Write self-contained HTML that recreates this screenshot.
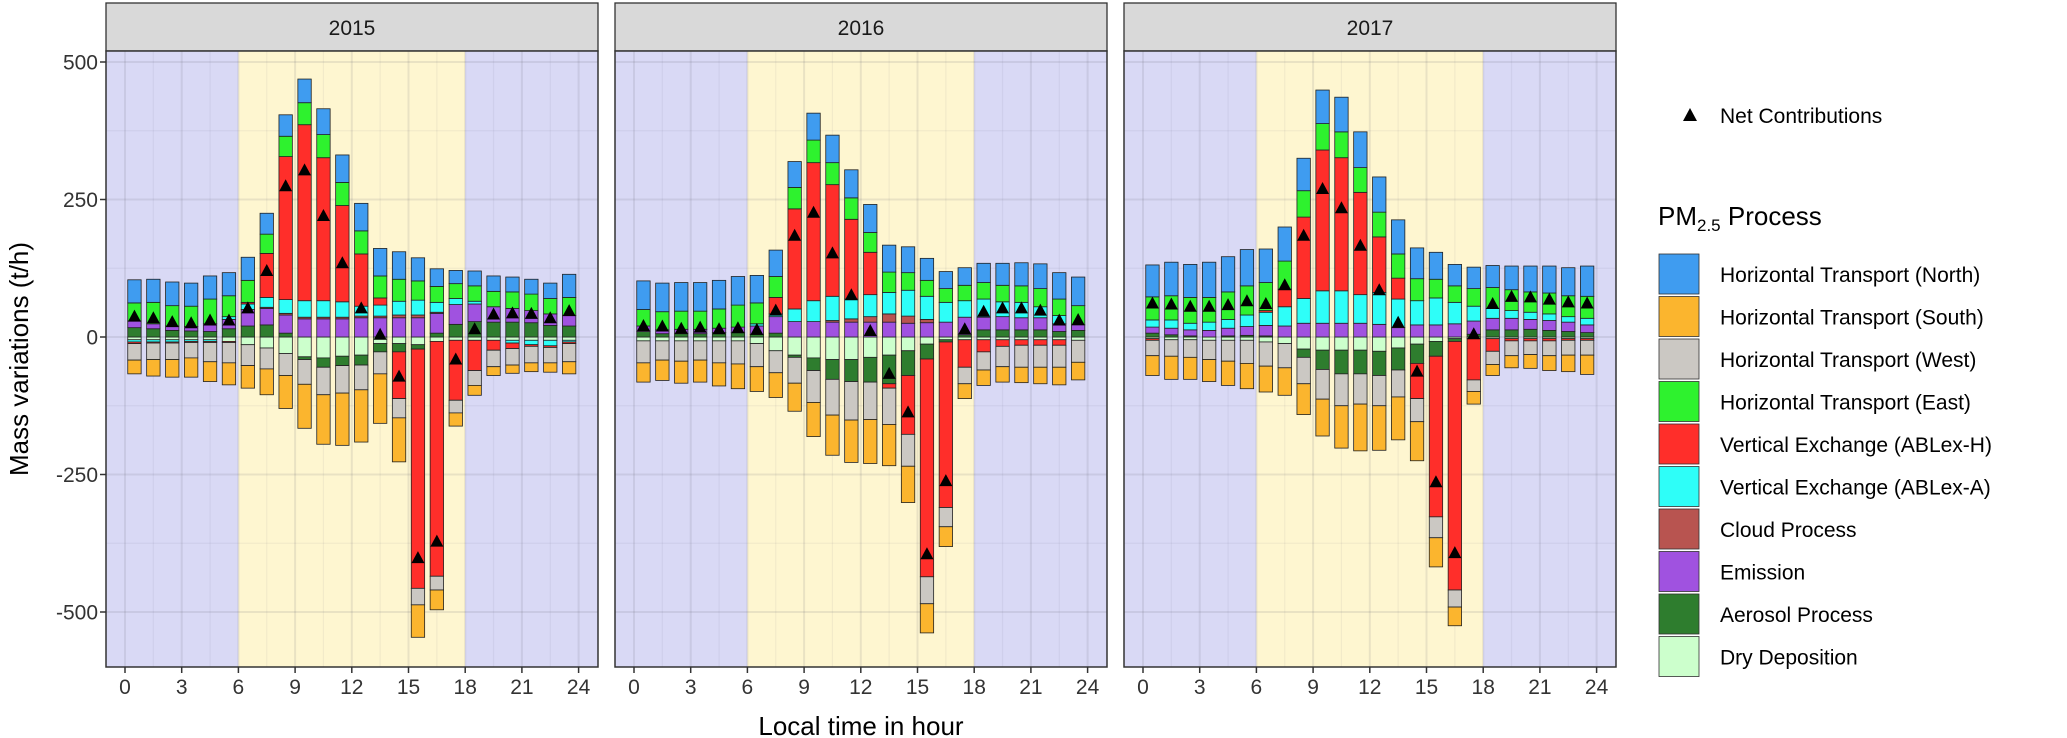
<!DOCTYPE html>
<html><head><meta charset="utf-8">
<style>
body{margin:0;background:#fff;}
svg{display:block;font-family:"Liberation Sans",Arial,sans-serif;}
</style></head>
<body>
<svg id="chart" width="2067" height="738" viewBox="0 0 2067 738" xmlns="http://www.w3.org/2000/svg">
<rect x="0" y="0" width="2067" height="738" fill="#fff"/>
<g id="panels"></g>
<text x="0" y="0" transform="translate(28,359) rotate(-90)" text-anchor="middle" font-size="26" fill="#000">Mass variations (t/h)</text>
<text x="861" y="735" text-anchor="middle" font-size="26" fill="#000">Local time in hour</text>
<g id="legend"></g>
</svg>
<script>
const hours = [0.5,1.5,2.5,3.5,4.5,5.5,6.5,7.5,8.5,9.5,10.5,11.5,12.5,13.5,14.5,15.5,16.5,17.5,18.5,19.5,20.5,21.5,22.5,23.5];
const years = ["2015","2016","2017"];
const yTicks = [-500,-250,0,250,500];
const xTicks = [0,3,6,9,12,15,18,21,24];
const seriesNames = ["Horizontal Transport (North)","Horizontal Transport (South)","Horizontal Transport (West)","Horizontal Transport (East)","Vertical Exchange (ABLex-H)","Vertical Exchange (ABLex-A)","Cloud Process","Emission","Aerosol Process","Dry Deposition"];
const seriesColors = ["#3f9cf0","#fbb52e","#cbc8c3","#2ef22e","#ff2e2a","#2efef8","#b85450","#a052e0","#2e7d2e","#ccffcc"];

// 2015
const north2015 = [42,42,43,42,42,42,42,38,39,43,47,50,50,50,50,42,32,24,27,28,27,27,28,42];
const south2015 = [-25,-30,-32,-35,-36,-40,-41,-47,-60,-80,-90,-95,-95,-90,-80,-59,-36,-24,-18,-16,-15,-16,-17,-22];
const west2015 = [-30,-30,-30,-28,-35,-37,-38,-38,-40,-45,-50,-50,-45,-40,-35,-30,-25,-23,-27,-30,-30,-30,-28,-33];
const east2015 = [33,39,37,37,45,38,40,35,37,40,42,42,42,40,40,35,29,27,28,28,30,30,28,33];
const ablexH2015 = [-3,-2,-2,-2,-2,-2,3,80,260,320,260,175,95,13,-85,-435,-427,-109,-55,-18,-10,-3,-3,-3];
const ablexA2015 = [-4,-4,-4,-3,-3,5,10,18,25,30,30,28,18,20,25,27,18,11,5,0,-5,-8,-10,-3];
const cloud2015 = [0,0,0,0,0,0,0,2,3,3,3,3,3,3,5,5,2,0,0,0,0,0,0,0];
const emission2015 = [12,9,8,8,14,17,30,30,33,33,33,33,35,35,35,35,36,36,32,28,25,22,21,19];
const aerosol2015 = [17,15,12,11,10,15,20,22,7,-5,-17,-17,-18,-15,-15,-8,7,23,28,27,27,26,21,20];
const drydep2015 = [-5,-5,-5,-5,-5,-8,-14,-20,-30,-36,-38,-35,-33,-12,-12,-14,-8,-6,-6,-6,-6,-6,-6,-6];
// 2016
const north2016 = [52,52,52,52,52,52,50,48,47,49,50,51,51,49,47,40,31,32,35,40,42,45,48,52];
const south2016 = [-35,-37,-40,-40,-42,-45,-45,-45,-51,-62,-73,-77,-80,-75,-66,-53,-36,-27,-28,-28,-28,-30,-32,-32];
const west2016 = [-40,-35,-37,-35,-40,-42,-42,-40,-47,-58,-65,-70,-68,-66,-58,-49,-35,-30,-33,-37,-40,-40,-40,-40];
const east2016 = [30,33,33,33,35,40,38,38,39,41,40,39,36,37,32,29,25,28,30,30,30,33,30,35];
const ablexH2016 = [0,0,0,0,0,0,0,30,182,251,203,145,77,-8,-107,-396,-301,-50,-22,-12,-10,-10,-10,0];
const ablexA2016 = [0,0,0,0,0,0,4,5,23,38,44,36,40,39,47,42,36,30,33,27,28,20,15,0];
const cloud2016 = [0,0,0,0,0,0,0,0,0,0,3,6,10,15,13,6,0,0,0,0,0,0,0,0];
const emission2016 = [10,7,8,8,8,10,15,30,28,28,27,27,27,27,25,26,27,32,23,24,22,22,14,10];
const aerosol2016 = [10,6,6,6,8,8,5,7,-4,-23,-36,-40,-45,-52,-45,-27,-4,4,13,13,13,13,10,12];
const drydep2016 = [-7,-7,-7,-7,-7,-7,-12,-25,-33,-38,-41,-41,-37,-33,-25,-13,-5,-5,-5,-5,-5,-5,-5,-6];
// 2017
const north2017 = [58,61,60,64,64,66,61,62,59,61,63,65,64,62,56,49,39,39,40,43,47,49,51,55];
const south2017 = [-36,-42,-40,-40,-44,-46,-47,-50,-56,-67,-77,-85,-81,-78,-71,-53,-34,-23,-20,-22,-25,-27,-30,-35];
const west2017 = [-28,-30,-32,-35,-38,-42,-44,-44,-48,-54,-58,-55,-55,-49,-42,-38,-31,-21,-24,-27,-25,-27,-27,-27];
const east2017 = [42,44,47,45,50,53,51,51,48,48,47,45,45,44,40,34,30,32,38,38,37,38,38,40];
const ablexH2017 = [-3,0,0,0,0,0,3,32,148,256,242,186,101,38,-64,-292,-452,-75,-23,-4,-4,-4,-3,-3];
const ablexA2017 = [13,15,12,15,16,21,24,35,45,59,59,52,58,52,44,49,39,27,18,14,13,12,10,12];
const cloud2017 = [0,0,0,0,0,0,0,0,0,0,0,0,0,0,0,0,0,0,0,0,0,0,0,0];
const emission2017 = [11,12,11,12,14,16,19,20,25,25,25,25,23,17,22,22,24,24,21,21,18,18,17,14];
const aerosol2017 = [7,4,2,0,2,3,2,0,-15,-35,-43,-43,-44,-40,-35,-27,-5,5,13,13,14,12,10,8];
const drydep2017 = [-3,-5,-5,-6,-6,-6,-9,-12,-22,-24,-24,-24,-26,-20,-13,-8,-3,-3,-3,-3,-3,-3,-3,-3];

const yearData = {
  "2015":[north2015,south2015,west2015,east2015,ablexH2015,ablexA2015,cloud2015,emission2015,aerosol2015,drydep2015],
  "2016":[north2016,south2016,west2016,east2016,ablexH2016,ablexA2016,cloud2016,emission2016,aerosol2016,drydep2016],
  "2017":[north2017,south2017,west2017,east2017,ablexH2017,ablexA2017,cloud2017,emission2017,aerosol2017,drydep2017]
};

const NS = "http://www.w3.org/2000/svg";
function mk(tag, attrs, parent){
  const e = document.createElementNS(NS, tag);
  for (const k in attrs) e.setAttribute(k, attrs[k]);
  parent.appendChild(e);
  return e;
}
const panelLeft = [106,615,1124];
const panelW = 492, plotTop = 51, plotBot = 667, stripTop = 3;
const zeroY = 337, pxPerUnit = 0.55, pxPerHour = 18.9, xPad = 19;
function yScale(v){ return zeroY - v*pxPerUnit; }
const panelsG = document.getElementById('panels');

years.forEach((yr, p) => {
  const L = panelLeft[p];
  const xScale = h => L + xPad + h*pxPerHour;
  const g = mk('g', {}, panelsG);
  
  
  const strip = mk('rect', {x:L, y:stripTop, width:panelW, height:plotTop-stripTop, fill:'#d9d9d9', stroke:'#333', 'stroke-width':1.3}, g);
  
  
  const st = mk('text', {x:L+panelW/2, y:35, 'text-anchor':'middle', 'font-size':21, fill:'#1a1a1a'}, g);
  st.textContent = yr;
  
  
  const nightL = mk('rect', {x:L, y:plotTop, width:xScale(6)-L, height:plotBot-plotTop, fill:'#d9d9f5'}, g);
  
  
  const day = mk('rect', {x:xScale(6), y:plotTop, width:xScale(18)-xScale(6), height:plotBot-plotTop, fill:'#fef6d0'}, g);
  
  
  const nightR = mk('rect', {x:xScale(18), y:plotTop, width:L+panelW-xScale(18), height:plotBot-plotTop, fill:'#d9d9f5'}, g);
  
  
  for (let v=-625; v<=625; v+=125){
    const y = yScale(v);
    if (y<plotTop||y>plotBot) continue;
    const major = (v%250===0);
    mk('line', {x1:L, x2:L+panelW, y1:y, y2:y, stroke: major?'rgba(90,90,110,0.13)':'rgba(90,90,110,0.07)', 'stroke-width': major?2:1.2}, g);
  }
  for (let h=0; h<=24; h+=1.5){
    const x = xScale(h);
    const major = (h%3===0);
    mk('line', {x1:x, x2:x, y1:plotTop, y2:plotBot, stroke: major?'rgba(90,90,110,0.13)':'rgba(90,90,110,0.07)', 'stroke-width': major?2:1.2}, g);
  }
  const data = yearData[yr];
  const order = [9,8,7,6,5,4,3,2,1,0];
  hours.forEach((h, i) => {
    let pos = 0, neg = 0, net = 0;
    const bx = xScale(h) - 6.7;
    order.forEach(s => {
      const v = data[s][i];
      net += v;
      if (v === 0) return;
      let y0, y1;
      if (v > 0){ y0 = pos; y1 = pos + v; pos = y1; }
      else { y0 = neg; y1 = neg + v; neg = y1; }
      const top = Math.min(yScale(y0), yScale(y1));
      const hgt = Math.abs(yScale(y0)-yScale(y1));
      const r = mk('rect', {x:bx, y:top, width:13.4, height:hgt, fill:seriesColors[s], stroke:'#222', 'stroke-width':0.8}, g);
      
      
    });
    const cx = xScale(h), cy = yScale(net);
    const tri = mk('polygon', {points:`${cx},${cy-7} ${cx-6.5},${cy+5} ${cx+6.5},${cy+5}`, fill:'#000'}, g);
    
    
  });
  mk('rect', {x:L, y:plotTop, width:panelW, height:plotBot-plotTop, fill:'none', stroke:'#333', 'stroke-width':1.5}, g);
  xTicks.forEach(t => {
    const x = xScale(t);
    mk('line', {x1:x, x2:x, y1:plotBot, y2:plotBot+6, stroke:'#333', 'stroke-width':1.5}, g);
    const tx = mk('text', {x:x, y:plotBot+27, 'text-anchor':'middle', 'font-size':21, fill:'#333'}, g);
    tx.textContent = t;
    
    
  });
  if (p === 0){
    yTicks.forEach(t => {
      const y = yScale(t);
      mk('line', {x1:L-6, x2:L, y1:y, y2:y, stroke:'#333', 'stroke-width':1.5}, g);
      const ty = mk('text', {x:L-8, y:y+7.5, 'text-anchor':'end', 'font-size':21, fill:'#333'}, g);
      ty.textContent = t;
      
      
    });
  }
});

const lg = document.getElementById('legend');
const lt = mk('polygon', {points:'1690,108 1683,121 1697,121', fill:'#000'}, lg);


const ltx = mk('text', {x:1720, y:123, 'font-size':21, fill:'#000'}, lg);
ltx.textContent = 'Net Contributions';


const title = mk('text', {x:1658, y:225, 'font-size':26, fill:'#000'}, lg);
title.innerHTML = 'PM<tspan font-size="17" dy="6">2.5</tspan><tspan dy="-6"> Process</tspan>';


seriesNames.forEach((n, k) => {
  const y = 253 + k*42.5;
  mk('rect', {x:1658, y:y, width:42, height:42, fill:'#f2f2f2', stroke:'#fff', 'stroke-width':1}, lg);
  const sw = mk('rect', {x:1659, y:y+1, width:40, height:40, fill:seriesColors[k], stroke:'#333', 'stroke-width':0.8}, lg);
  
  
  const t = mk('text', {x:1720, y:y+29, 'font-size':21, fill:'#000'}, lg);
  t.textContent = n;
  
  
});
</script>
</body></html>
